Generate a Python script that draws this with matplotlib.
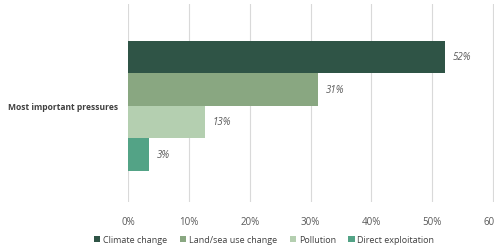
import matplotlib
matplotlib.use("Agg")
import matplotlib.pyplot as plt
from matplotlib.ticker import FuncFormatter

category = "Most important pressures"
series = ["Climate change", "Land/sea use change", "Pollution", "Direct exploitation"]
values = [52.1, 31.2, 12.6, 3.4]
labels = ["52%", "31%", "13%", "3%"]
colors = ["#2F5446", "#89A781", "#B4CFB0", "#53A386"]
xticks = [0, 10, 20, 30, 40, 50, 60]

plt.rcParams['font.family'] = ['Open Sans', 'DejaVu Sans']

fig = plt.figure(figsize=(4.94, 2.51), dpi=100)
ax = fig.add_axes([0.2597, 0.191, 0.7377 + 0.02, 0.789])
ax.set_xlim(0, 60 * (1 + 0.02 / 0.7377))

h = 0.164
offsets = [0.233, 0.069, -0.095, -0.259]
for s, v, lab, c, off in zip(series, values, labels, colors, offsets):
    ax.barh(off, v, height=h, color=c, label=s, zorder=3)
    ax.text(v + 1.3, off, lab, va="center", ha="left", fontsize=7,
            style="italic", color="#595959", zorder=4)

ax.set_ylim(-0.5, 0.5)
ax.set_yticks([-0.01])
ax.set_yticklabels([category], fontsize=6.1, fontweight="bold", color="#404040")
ax.set_xticks(xticks)
ax.xaxis.set_major_formatter(FuncFormatter(lambda x, p: f"{int(x)}%"))
ax.tick_params(axis="x", labelsize=7, colors="#595959", length=0, pad=10)
ax.tick_params(axis="y", length=0, pad=7.5)
ax.grid(axis="x", color="#D9D9D9", linewidth=0.8, zorder=0)
for sp in ax.spines.values():
    sp.set_visible(False)

leg = fig.legend(loc="lower center", bbox_to_anchor=(0.535, -0.01), ncol=4,
                 frameon=False, fontsize=6.5, handlelength=0.7, handleheight=0.7,
                 handletextpad=0.3, columnspacing=1.4, labelcolor="#404040")

fig.savefig("out.png", dpi=100)
